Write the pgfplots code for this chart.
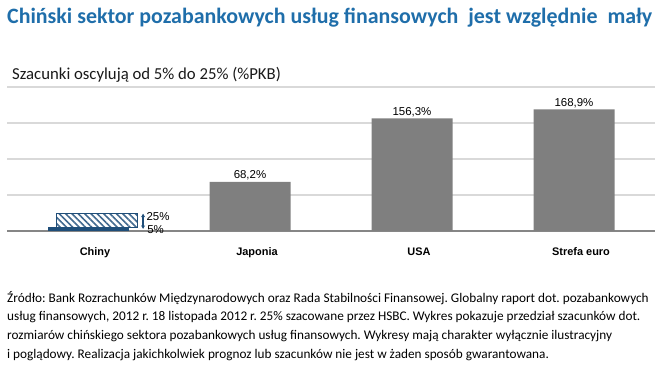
\documentclass[border=0pt]{standalone}
\usepackage{fontspec}
\setmainfont{Carlito}
\newfontfamily\arial{Liberation Sans}
\usepackage{pgfplots}
\pgfplotsset{compat=1.18}
\usetikzlibrary{patterns.meta,arrows.meta}
\definecolor{titleblue}{HTML}{1F6EAA}
\definecolor{bargray}{HTML}{7F7F7F}
\definecolor{chinablue}{HTML}{1F4E79}
\definecolor{hatchblue}{HTML}{41698F}
\definecolor{gridgray}{HTML}{D9D9D9}
\definecolor{axisgray}{HTML}{868686}
\frenchspacing
\begin{document}
\begin{tikzpicture}
\useasboundingbox (0,0) rectangle (658bp,370bp);
\node[anchor=west, text=titleblue, font=\bfseries\fontsize{22}{26}\selectfont, inner sep=0] at (7bp,352bp) {Chiński sektor pozabankowych usług finansowych\ \ jest względnie\ \ mały};
\node[anchor=west, text=black!90, font=\fontsize{16.8}{20}\selectfont, inner sep=0] at (12bp,295bp) {Szacunki oscylują od 5\% do 25\% (\%PKB)};
\node[anchor=north west, align=left, font=\fontsize{13.3}{18.8}\selectfont, inner sep=0] at (7bp,79bp) {Źródło: Bank Rozrachunków Międzynarodowych oraz Rada Stabilności Finansowej. Globalny raport dot. pozabankowych\\
usług finansowych, 2012 r. 18 listopada 2012 r. 25\% szacowane przez HSBC. Wykres pokazuje przedział szacunków dot.\\
rozmiarów chińskiego sektora pozabankowych usług finansowych. Wykresy mają charakter wyłącznie ilustracyjny\\
i poglądowy. Realizacja jakichkolwiek prognoz lub szacunków nie jest w żaden sposób gwarantowana.};
\begin{axis}[
  at={(7bp,139bp)}, anchor=south west, scale only axis,
  width=648bp, height=144bp,
  xmin=-0.5, xmax=3.5, ymin=0, ymax=200,
  axis x line*=bottom, axis y line*=left,
  x axis line style={draw=axisgray, line width=1.3bp},
  y axis line style={draw=none},
  ytick={50,100,150,200}, yticklabels={},
  ymajorgrids, grid style={draw=gridgray, line width=1.3bp},
  xtick={0,1,2,3}, xticklabels={Chiny,Japonia,USA,Strefa euro},
  major tick length=0,
  xticklabel style={font=\arial\bfseries\fontsize{11}{13}\selectfont, yshift=-13bp, xshift=7bp},
  clip=false,
]
\addplot[ybar, bar width=0.5, bar shift=0, fill=chinablue, draw=none] coordinates {(0,5)};
\addplot[draw=chinablue, line width=0.8bp, fill=white, postaction={pattern={Lines[angle=135,distance=4.5pt,line width=1.6pt]}, pattern color=hatchblue}] coordinates {(-0.195,5) (-0.195,24) (0.302,24) (0.302,5)} -- cycle;
\addplot[ybar, bar width=0.5, bar shift=0, fill=bargray, draw=none,
  nodes near coords={\pgfmathprintnumber[fixed,fixed zerofill,precision=1,use comma,assume math mode=true]{\pgfplotspointmeta}\%},
  every node near coord/.append style={font=\arial\fontsize{11.5}{13}\selectfont, inner sep=1.5bp, text=black}]
  coordinates {(1,68.2) (2,156.3) (3,168.9)};
\draw[{Stealth[length=3.5bp,width=4bp]}-{Stealth[length=3.5bp,width=4bp]}, chinablue, line width=1.3bp] (axis cs:0.34,3) -- (axis cs:0.34,24);
\node[anchor=west, inner sep=0, font=\arial\fontsize{11.5}{13}\selectfont] at (axis cs:0.36,20.5) {25\%};
\node[anchor=west, inner sep=0, font=\arial\fontsize{11.5}{13}\selectfont] at (axis cs:0.365,2.5) {5\%};
\end{axis}
\end{tikzpicture}
\end{document}
